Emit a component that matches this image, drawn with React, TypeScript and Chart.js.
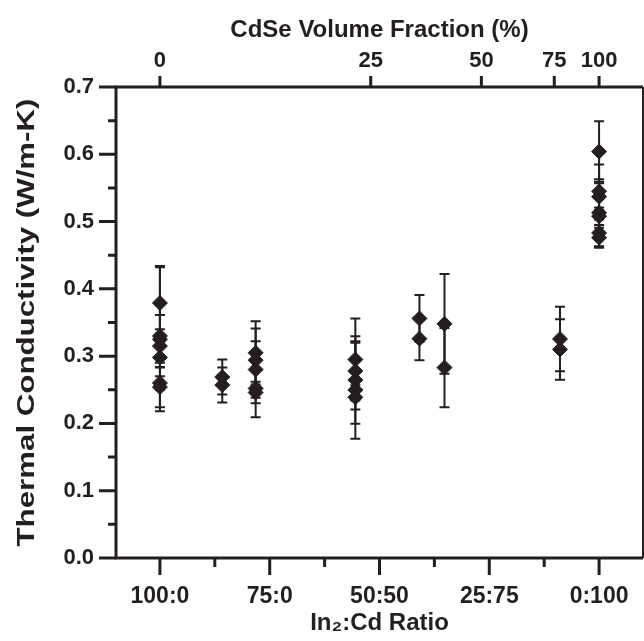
import React, { useEffect, useRef } from 'react';
import { Chart, registerables } from 'chart.js';

Chart.register(...registerables);

// Bottom axis: In2:Cd ratio (x value = Cd share, %)
const ratioTickValues = [0, 25, 50, 75, 100];
const ratioTickLabels = ['100:0', '75:0', '50:50', '25:75', '0:100'];
const ratioMinorValues = [12.5, 37.5, 62.5, 87.5];
// Top axis: CdSe volume fraction, placed on the same x scale
const volumeTickValues = [0, 48, 73.2, 89.8, 100];
const volumeTickLabels = ['0', '25', '50', '75', '100'];
// Y axis
const yMajorTicks = [0, 0.1, 0.2, 0.3, 0.4, 0.5, 0.6, 0.7];
const yMinorTicks = [0.05, 0.15, 0.25, 0.35, 0.45, 0.55, 0.65];
const yTitle = 'Thermal Conductivity (W/m-K)';

// Measurements: sample groups
const groupX = [0, 14.2, 21.8, 44.5, 59.1, 64.8, 91.1, 100];
const groupValues = [
  [0.379, 0.33, 0.325, 0.315, 0.298, 0.26, 0.254],
  [0.269, 0.257],
  [0.305, 0.294, 0.28, 0.252, 0.246],
  [0.295, 0.278, 0.2645, 0.2497, 0.2388],
  [0.356, 0.326],
  [0.348, 0.283],
  [0.3255, 0.31],
  [0.604, 0.545, 0.537, 0.513, 0.508, 0.483, 0.476],
];
const groupErrors = [
  [0.055, 0.031, 0.107, 0.025, 0.015, 0.01, 0.03],
  [0.026, 0.026],
  [0.047, 0.047, 0.042, 0.043, 0.016],
  [0.061, 0.042, 0.065, 0.0724, 0.018],
  [0.035, 0.032],
  [0.074, 0.059],
  [0.048, 0.045],
  [0.045, 0.04, 0.02, 0.05, 0.013, 0.02, 0.015],
];

const INK = '#231f20';
const FONT = '"Liberation Sans", Arial, Helvetica, sans-serif';

const errorBarPlugin = {
  id: 'errorBars',
  beforeDatasetsDraw(chart: any) {
    const { ctx, scales } = chart;
    const xs = scales.x;
    const ys = scales.y;
    ctx.save();
    ctx.strokeStyle = INK;
    ctx.lineWidth = 2;
    chart.data.datasets.forEach((ds: any) => {
      ds.data.forEach((p: any) => {
        const px = xs.getPixelForValue(p.x);
        const top = ys.getPixelForValue(p.y + p.err);
        const bot = ys.getPixelForValue(p.y - p.err);
        ctx.beginPath();
        ctx.moveTo(px, top);
        ctx.lineTo(px, bot);
        ctx.moveTo(px - 5, top);
        ctx.lineTo(px + 5, top);
        ctx.moveTo(px - 5, bot);
        ctx.lineTo(px + 5, bot);
        ctx.stroke();
      });
    });
    ctx.restore();
  },
};

const framePlugin = {
  id: 'frame',
  afterDraw(chart: any) {
    const { ctx, chartArea, scales } = chart;
    const { left, right, top, bottom } = chartArea;
    const xs = scales.x;
    const ys = scales.y;
    ctx.save();
    ctx.strokeStyle = INK;
    ctx.lineCap = 'butt';
    ctx.lineWidth = 3;
    ctx.beginPath();
    ctx.moveTo(left, top);
    ctx.lineTo(left, bottom);
    ctx.moveTo(left - 1.5, bottom);
    ctx.lineTo(right, bottom);
    ctx.moveTo(left - 1.5, top);
    ctx.lineTo(right, top);
    ctx.stroke();
    ctx.lineWidth = 2;
    ctx.beginPath();
    ctx.moveTo(right, top);
    ctx.lineTo(right, bottom);
    ctx.stroke();
    ctx.lineWidth = 3;
    ctx.beginPath();
    yMajorTicks.forEach((v) => {
      const py = ys.getPixelForValue(v);
      ctx.moveTo(left - 17, py);
      ctx.lineTo(left, py);
    });
    yMinorTicks.forEach((v) => {
      const py = ys.getPixelForValue(v);
      ctx.moveTo(left - 8, py);
      ctx.lineTo(left, py);
    });
    ratioTickValues.forEach((v) => {
      const px = xs.getPixelForValue(v);
      ctx.moveTo(px, bottom);
      ctx.lineTo(px, bottom + 17);
    });
    ratioMinorValues.forEach((v) => {
      const px = xs.getPixelForValue(v);
      ctx.moveTo(px, bottom);
      ctx.lineTo(px, bottom + 9);
    });
    volumeTickValues.forEach((v) => {
      const px = xs.getPixelForValue(v);
      ctx.moveTo(px, top);
      ctx.lineTo(px, top - 11);
    });
    ctx.stroke();

    // Y axis title, elongated along its reading direction as in the original
    ctx.fillStyle = INK;
    ctx.font = `bold 23px ${FONT}`;
    ctx.textAlign = 'center';
    ctx.textBaseline = 'middle';
    const w = ctx.measureText(yTitle).width;
    const sx = 448 / w;
    ctx.translate(28, (top + bottom) / 2);
    ctx.rotate(-Math.PI / 2);
    ctx.scale(sx, 1);
    ctx.fillText(yTitle, 0, 0);
    ctx.restore();
  },
};

const zeroPad = (s: any) => {
  s.paddingLeft = 0;
  s.paddingRight = 0;
  s.paddingTop = 0;
  s.paddingBottom = 0;
};

export default function App() {
  const canvasRef = useRef<HTMLCanvasElement | null>(null);

  useEffect(() => {
    if (!canvasRef.current) return;
    const points: any[] = [];
    groupX.forEach((x, gi) => {
      groupValues[gi].forEach((y, i) => {
        points.push({ x, y, err: groupErrors[gi][i] });
      });
    });

    const chart = new Chart(canvasRef.current, {
      type: 'scatter',
      data: {
        datasets: [
          {
            data: points,
            pointStyle: 'rectRot',
            pointRadius: 7.5,
            backgroundColor: INK,
            borderColor: INK,
            borderWidth: 1,
          },
        ],
      },
      options: {
        animation: false,
        responsive: false,
        devicePixelRatio: 1,
        layout: { autoPadding: false, padding: { left: 0, right: 1, top: 0, bottom: 0 } },
        plugins: { legend: { display: false }, tooltip: { enabled: false } },
        scales: {
          x: {
            type: 'linear',
            position: 'bottom',
            min: -10,
            max: 110,
            grid: { display: false, drawTicks: false },
            border: { display: false },
            afterBuildTicks: (axis: any) => {
              axis.ticks = ratioTickValues.map((v) => ({ value: v }));
            },
            afterFit: (s: any) => {
              s.height = 83;
              zeroPad(s);
            },
            ticks: {
              autoSkip: false,
              maxRotation: 0,
              padding: 25,
              color: INK,
              font: { family: FONT, size: 23, weight: 'bold' },
              callback: (_v: any, i: number) => ratioTickLabels[i],
            },
            title: {
              display: true,
              text: 'In\u2082:Cd Ratio',
              color: INK,
              font: { family: FONT, size: 24, weight: 'bold' },
              padding: { top: 0, bottom: 3 },
            },
          },
          x2: {
            type: 'linear',
            axis: 'x',
            position: 'top',
            min: -10,
            max: 110,
            grid: { display: false, drawTicks: false },
            border: { display: false },
            afterBuildTicks: (axis: any) => {
              axis.ticks = volumeTickValues.map((v) => ({ value: v }));
            },
            afterFit: (s: any) => {
              s.height = 87;
              zeroPad(s);
            },
            ticks: {
              autoSkip: false,
              maxRotation: 0,
              padding: 13,
              color: INK,
              font: { family: FONT, size: 22, weight: 'bold' },
              callback: (_v: any, i: number) => volumeTickLabels[i],
            },
            title: {
              display: true,
              text: 'CdSe Volume Fraction (%)',
              color: INK,
              font: { family: FONT, size: 24, weight: 'bold' },
              padding: { top: 16, bottom: 0 },
            },
          },
          y: {
            type: 'linear',
            position: 'left',
            min: 0,
            max: 0.7,
            grid: { display: false, drawTicks: false },
            border: { display: false },
            afterBuildTicks: (axis: any) => {
              axis.ticks = yMajorTicks.map((v) => ({ value: v }));
            },
            afterFit: (s: any) => {
              s.width = 116;
              zeroPad(s);
            },
            ticks: {
              padding: 22,
              color: INK,
              font: { family: FONT, size: 22, weight: 'bold' },
              callback: (v: any) => Number(v).toFixed(1),
            },
            title: { display: false },
          },
        },
      },
      plugins: [errorBarPlugin, framePlugin],
    });
    return () => chart.destroy();
  }, []);

  return (
    <div style={{ position: 'fixed', left: 0, top: 0, width: 644, height: 641, background: '#ffffff' }}>
      <canvas ref={canvasRef} width={644} height={641} style={{ display: 'block' }} />
    </div>
  );
}
